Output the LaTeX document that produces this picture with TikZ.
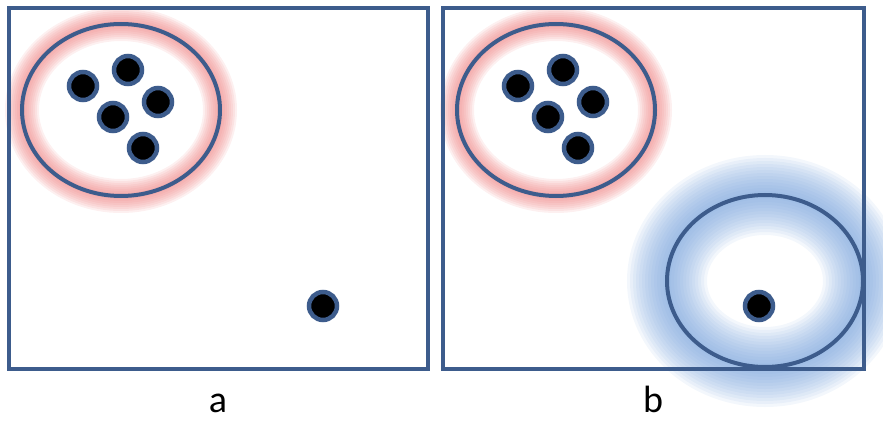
\documentclass[tikz,border=0pt]{standalone}
\usepackage{fontspec}
\setmainfont{Carlito}
\definecolor{edge}{HTML}{3D5C8C}
\definecolor{redglow}{HTML}{EE8080}
\definecolor{blueglow}{HTML}{7AA4DC}
\tikzset{
  panel/.style={draw=edge, line width=3.8pt},
  ring/.style={draw=edge, line width=4pt},
  dot/.style={circle, fill=black, draw=edge, line width=4.5pt, inner sep=0pt, minimum size=28pt},
  lbl/.style={font=\fontsize{38}{42}\selectfont, inner sep=0pt}
}
\begin{document}
\begin{tikzpicture}[x=1pt,y=-1pt]
\useasboundingbox (0,0) rectangle (883,422);
% glows
\foreach \cx in {121,556}{
  \foreach \w in {34,30,...,2}{
    \draw[redglow, opacity=0.12, line width=\w pt] (\cx,110) ellipse [x radius=99pt, y radius=86pt];
  }
}
\foreach \w in {80,74,...,2}{
  \draw[blueglow, opacity=0.09, line width=\w pt] (765,281) ellipse [x radius=98pt, y radius=86pt];
}
% panels
\draw[panel] (9,8) rectangle (428,369);
\draw[panel] (443,8) rectangle (864,369);
% rings
\draw[ring] (121,110) ellipse [x radius=99pt, y radius=86pt];
\draw[ring] (556,110) ellipse [x radius=99pt, y radius=86pt];
\draw[ring] (765,281) ellipse [x radius=98pt, y radius=86pt];
% dots panel a
\node[dot] (a1) at (83,86) {};
\node[dot] (a2) at (128,70) {};
\node[dot] (a3) at (158,102) {};
\node[dot] (a4) at (113,117) {};
\node[dot] (a5) at (143,148) {};
\node[dot] (a6) at (323,306) {};
% dots panel b
\node[dot] (b1) at (518,86) {};
\node[dot] (b2) at (563,70) {};
\node[dot] (b3) at (593,102) {};
\node[dot] (b4) at (548,117) {};
\node[dot] (b5) at (578,148) {};
\node[dot] (b6) at (759,306) {};
% labels
\node[lbl, anchor=base] (la) at (218,412) {a};
\node[lbl, anchor=base] (lb) at (653,412) {b};
\end{tikzpicture}
\end{document}
